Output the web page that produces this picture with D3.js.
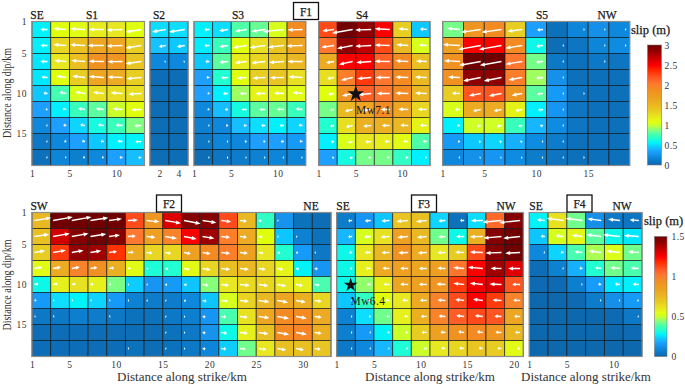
<!DOCTYPE html>
<html>
<head>
<meta charset="utf-8">
<script src="https://cdnjs.cloudflare.com/ajax/libs/d3/7.8.5/d3.min.js"></script>
<style>
html, body { margin: 0; padding: 0; background: #fff; }
svg { display: block; }
text { font-family: "Liberation Serif", serif; fill: #222; }
</style>
</head>
<body>
<svg width="685" height="385"></svg>
<script>
/* Slip per cell in metres, rows run down dip */
var slipS1 = [
 [.55,1.08,1.1,1.18,1.2,1.08],
 [.55,1.3,1.45,1.65,1.65,1.35],
 [.52,1.2,1.45,1.85,1.8,1.4],
 [.52,1.08,1.35,1.65,1.6,1.35],
 [.45,.75,1.05,1.25,1.25,1.25],
 [.33,.54,.72,.8,1,1.08],
 [.2,.33,.48,.62,.72,.87],
 [.1,.2,.33,.45,.54,.56],
 [.05,.18,.14,.2,.33,.42]];
var slipS2 = [[.5,.5],[.43,.45],[.2,.2],[.04,.04],[.03,.03],[.03,.03],[.03,.03],[.03,.03],[.03,.03]];
var slipS3 = [
 [.55,.5,.78,.82,1.05,1.9],
 [.53,.72,1.08,1.25,1.4,1.65],
 [.45,.8,1.18,1.3,1.4,1.5],
 [.33,.66,1.08,1.35,1.4,1.25],
 [.33,.54,.92,1.15,1.15,1.1],
 [.2,.42,.62,.8,.82,.72],
 [.15,.2,.42,.5,.55,.48],
 [.1,.18,.2,.33,.33,.3],
 [.03,.08,.12,.16,.18,.18]];
var slipS4 = [
 [2.25,3,2.85,2.5,1.35,.45],
 [2.05,2.85,2.7,2.25,1.5,1.05],
 [1.6,2.5,2.5,2.15,1.9,1.45],
 [1.25,2,2.3,2.05,1.9,1.5],
 [1.08,1.85,2.15,2.05,1.9,1.5],
 [.85,1.5,1.65,1.9,1.65,1.3],
 [.66,1.25,1.55,1.55,1.5,1.15],
 [.54,1.05,1.2,1.18,1.1,.78],
 [.33,.62,.85,.85,.7,.54]];
var slipS5 = [
 [.85,1.8,1.9,1.35,.33,.05,.18,.24,.2],
 [1.7,2.5,2.5,1.9,.6,.03,.08,.18,.22],
 [1.85,3,3,2.05,.85,.1,.05,.1,.08],
 [1.85,2.85,2.85,2,.92,.25,.05,.05,.05],
 [1.35,2.2,2.2,1.8,.8,.3,.08,.05,.05],
 [1.05,1.6,1.6,1.15,.54,.28,.08,.05,.05],
 [.55,1.02,1.02,.72,.4,.22,.08,.05,.05],
 [.3,.45,.48,.38,.22,.12,.05,.05,.05],
 [.2,.25,.28,.22,.12,.08,.05,.05,.05]];
var slipF2 = [
 [.75,1.5,1.5,1.5,1.5,1.12,.9,1.3,1.45,1.45,1.12,.75,.35,.13,.03,.02],
 [.72,1.32,1.45,1.5,1.45,1.02,.85,.98,1.25,1.4,1,.8,.54,.22,.08,.03],
 [.68,1.15,1.42,1.4,1.17,.8,.65,.65,.85,.95,1,.85,.6,.33,.15,.05],
 [.55,.8,.98,.93,.78,.55,.32,.33,.55,.65,.72,.75,.65,.57,.28,.14],
 [.3,.58,.62,.58,.43,.23,.14,.15,.22,.44,.6,.64,.65,.6,.58,.38],
 [.15,.25,.28,.24,.15,.08,.06,.06,.1,.22,.52,.66,.75,.82,.78,.65],
 [.05,.05,.07,.06,.05,.03,.03,.05,.07,.14,.38,.62,.82,.95,.95,.8],
 [.02,.02,.02,.02,.02,.02,.02,.03,.05,.13,.3,.58,.72,.95,.97,.78],
 [.02,.02,.02,.02,.02,.03,.02,.03,.05,.09,.23,.42,.6,.72,.72,.7]];
var slipF3 = [
 [.06,.14,.22,.7,.72,.24,.03,.25,1.05,1.45],
 [.2,.52,.62,.85,.75,.42,.3,.78,1.45,1.5],
 [.3,.6,.75,.92,.8,.6,.68,1.12,1.45,1.5],
 [.3,.58,.8,.85,.82,.85,1.03,1.25,1.4,1.3],
 [.3,.45,.58,.82,.85,.9,1.15,1.27,1.3,1.1],
 [.22,.35,.54,.6,.8,.98,1.12,1.25,1.15,.98],
 [.08,.25,.42,.58,.78,.98,1.08,1.12,1.1,.82],
 [.07,.15,.28,.5,.68,.85,.92,.95,.9,.75],
 [.05,.1,.2,.32,.5,.6,.65,.7,.68,.55]];
var slipF4 = [
 [.28,.62,.42,.12,.05,.04],
 [.22,.52,.56,.4,.3,.26],
 [.1,.24,.38,.47,.53,.42],
 [.02,.08,.19,.33,.42,.38],
 [.01,.01,.07,.16,.26,.27],
 [0,0,.01,.06,.12,.15],
 [0,0,0,0,.01,.05],
 [0,0,0,0,0,.01],
 [0,0,0,0,0,0]];

/* Rake arrow magnitude per cell */
var arrowS1 = [
 [7,13,15,15,16,16],[7,13,15,16,16,16],[7,12,14,15,15,16],[6,10,13,15,15,15],[4,7,10,11,12,13],
 [2,4,7,8,10,10],[1,3,5,6,7,7],[1,2,3,3,5,6],[1,1,2,2,3,3]];
var arrowS2 = [[14,16],[7,8],[1,1],[0,0],[0,0],[0,0],[0,0],[0,0],[0,0]];
var arrowS3 = [
 [5,9,12,14,21,15],[5,9,14,16,16,16],[4,9,12,14,15,15],[3,7,10,13,14,14],[2,5,7,10,10,10],
 [2,3,5,6,7,7],[1,2,3,4,4,4],[1,1,2,2,3,3],[.5,.8,1,1,1,1]];
var arrowS4 = [
 [12,21,16,15,10,7],[13,16,16,15,12,8],[8,14,15,15,13,11],[7,12,14,14,13,12],[6,11,13,13,13,12],
 [4,8,9,9,10,9],[4,7,8,8,8,7],[3,5,6,5,5,4],[2,3,3,3,3,2]];
var arrowS5 = [
 [13,20,20,15,6,0,1,1,1],[17,23,23,17,7,1,0,1,1],[16,22,22,17,7,1,0,1,0],[12,18,18,14,7,1,0,0,0],
 [8,12,13,11,6,1,.5,0,0],[5,8,8,7,5,1,0,0,0],[3,4,5,4,3,1,0,0,0],[2,2,2,2,1,1,0,0,0],[1,1,1,1,.8,.5,.5,0,0]];
var arrowF2 = [
 [17,20,20,18,13,10,13,16,17,14,10,7,3,1,0,0],
 [15,17,17,16,11,8,9,12,13,12,9,7,4,1,.5,0],
 [11,13,12,11,8,6,6,6,7,8,9,8,5,3,2,.8],
 [8,8,8,7,5,3,2,3,6,8,9,9,7,6,3,3],
 [4,5,4,3,2,1,1,2,3,6,8,10,10,9,7,5],
 [2,1,1,1,1,.5,.5,1,2,4,7,9,11,11,10,7],
 [1,.8,0,0,.5,0,0,.7,1,3,5,8,11,12,11,7],
 [0,0,0,0,0,0,0,.7,1,3,6,8,10,12,11,7],
 [0,0,0,0,0,.5,0,.7,1,3,5,6,8,9,8,6]];
var arrowF3 = [
 [4,6,8,12,11,7,4,12,19,21],[4,7,9,11,10,7,8,13,18,17],[3,6,8,10,9,8,9,13,16,15],
 [2,5,7,8,8,8,11,15,11,12],[1,4,6,8,8,9,11,13,12,8],[1,3,4,6,7,8,9,10,9,7],
 [1,2,3,4,6,7,8,8,7,6],[.8,1,2,3,5,5,6,6,6,5],[.8,1,1,2,3,4,5,4,4,3]];
var arrowF4 = [
 [8,17,17,14,12,9],[4,8,11,15,17,15],[1,3,8,13,14,11],[0,.8,3,6,10,8],[0,0,.7,3,5,6],
 [0,0,0,1,1,1.5],[0,0,0,0,0,.5],[0,0,0,0,0,0],[0,0,0,0,0,0]];

/* Arrow tilt in degrees: column part + row part, positive lifts the head */
var tiltColS1 = [3,7,6,3,1,-6], tiltRowS1 = [-3,-3,-2,1,3,3,3,3,3];
var tiltColS2 = [-10,-9], tiltRowS2 = [0,0,0,0,0,0,0,0,0];
var tiltColS3 = [0,-6,-7,-6,-4,0], tiltRowS3 = [-2,-2,0,3,6,6,5,5,5];
var tiltColS4 = [-7,-10,-2,3,5,5], tiltRowS4 = [0,-1,-2,-3,-3,-3,-3,-3,-3];
var tiltColS5 = [3,-10,-10,-9,-6,0,0,0,0], tiltRowS5 = [2,0,0,-1,-1,-1,-1,0,0];
var tiltColF2 = [9,10,10,9,8,3,-6,-10,-11,-9,-7,-6,-8,-10,-10,-8], tiltRowF2 = [0,0,0,0,0,0,0,0,0];
var tiltColF3 = [0,0,0,-1,-2,0,3,3,-1,-2], tiltRowF3 = [-4,-4,-1,2,3,4,4,4,4];
var tiltColF4 = [5,7,7,7,6,4], tiltRowF4 = [0,0,0,0,0,0,0,0,0];

var ticksS = [1, 5, 10];
var ticksS2 = [2, 4];
var ticksS5 = [1, 5, 10, 15];
var ticksF2 = [1, 5, 10, 15, 20, 25, 30];
var ticksF3 = [1, 5, 10, 15, 20];
var ticksDip = [1, 5, 10, 15];
var ticksBarTop = [0, .5, 1, 1.5, 2, 2.5, 3];
var ticksBarBottom = [0, .5, 1, 1.5];

/* Colormap, fractions of the maximum slip */
var cmapStops = [0,.06,.11,.15,.18,.22,.26,.29,.33,.36,.40,.46,.54,.62,.68,.74,.78,.83,.90,.95,1];
var cmapColors = ["#0b68ae","#0d85d8","#1a9fff","#10c8ff","#00f0ff","#20ffd0","#50ffa8","#80ff80","#c8ff30","#e0ff10",
                  "#e8e820","#e8c820","#eca820","#f09020","#ff7830","#ff5020","#ff3000","#ff0000","#c00000","#900000","#700000"];

var panels = [
 {slip:slipS1, arrow:arrowS1, tiltCol:tiltColS1, tiltRow:tiltRowS1, dir:-1, kmEnd:13, x0:32, x1:144.5, row:0, max:3, ticks:ticksS},
 {slip:slipS2, arrow:arrowS2, tiltCol:tiltColS2, tiltRow:tiltRowS2, dir:-1, kmEnd:5, x0:150, x1:188, row:0, max:3, ticks:ticksS2},
 {slip:slipS3, arrow:arrowS3, tiltCol:tiltColS3, tiltRow:tiltRowS3, dir:-1, kmEnd:13, x0:194, x1:305.7, row:0, max:3, ticks:ticksS},
 {slip:slipS4, arrow:arrowS4, tiltCol:tiltColS4, tiltRow:tiltRowS4, dir:-1, kmEnd:13, x0:318.7, x1:430, row:0, max:3, ticks:ticksS},
 {slip:slipS5, arrow:arrowS5, tiltCol:tiltColS5, tiltRow:tiltRowS5, dir:-1, kmEnd:19, x0:442.7, x1:629.7, row:0, max:3, ticks:ticksS5},
 {slip:slipF2, arrow:arrowF2, tiltCol:tiltColF2, tiltRow:tiltRowF2, dir:1, kmEnd:33, x0:32, x1:331, row:1, max:1.5, ticks:ticksF2},
 {slip:slipF3, arrow:arrowF3, tiltCol:tiltColF3, tiltRow:tiltRowF3, dir:-1, kmEnd:21, x0:336.7, x1:523.3, row:1, max:1.5, ticks:ticksF3},
 {slip:slipF4, arrow:arrowF4, tiltCol:tiltColF4, tiltRow:tiltRowF4, dir:-1, kmEnd:13, x0:529.3, x1:642, row:1, max:1.5, ticks:ticksS}
];

var yScales = [
 d3.scaleLinear().domain([1, 19]).range([21.5, 165.5]),
 d3.scaleLinear().domain([1, 19]).range([212.5, 356.5])
];
var arrowScale = d3.scaleLinear().domain([0, 20]).range([0, 20]);

var svg = d3.select("svg");

/* the source image is a soft raster, take the hard edge off the cells */
svg.append("defs").append("filter").attr("id", "soft")
    .append("feGaussianBlur").attr("stdDeviation", 0.4);

function colorFor(max) {
    return d3.scaleLinear().domain(cmapStops.map(function(d) { return d * max; })).range(cmapColors).clamp(true);
}

function arrowPath(len) {
    /* drawn along +x from the tail, rotated afterwards */
    var head = Math.min(5, len * 0.45);
    return "M0,-0.7L" + (len - head) + ",-0.7L" + (len - head) + ",-2L" + len + ",0L" +
           (len - head) + ",2L" + (len - head) + ",0.7L0,0.7Z";
}

function DrawPanel(p) {
    var x = d3.scaleLinear().domain([1, p.kmEnd]).range([p.x0, p.x1]);
    var y = yScales[p.row];
    var color = colorFor(p.max);
    var g = svg.append("g").attr("filter", "url(#soft)");

    var cells = [];
    p.slip.forEach(function(r, i) {
        r.forEach(function(v, j) {
            cells.push({i:i, j:j, v:v, a:p.arrow[i][j], t:p.tiltCol[j] + p.tiltRow[i]});
        });
    });

    g.selectAll("rect.cell").data(cells).enter().append("rect")
        .attr("class", "cell")
        .attr("x", function(d) { return x(1 + 2 * d.j); })
        .attr("y", function(d) { return y(1 + 2 * d.i); })
        .attr("width", x(3) - x(1))
        .attr("height", y(3) - y(1))
        .attr("fill", function(d) { return color(d.v); })
        .attr("stroke", "rgba(20,20,20,0.7)")
        .attr("stroke-width", 0.9);

    g.append("rect")
        .attr("x", p.x0).attr("y", y(1))
        .attr("width", p.x1 - p.x0).attr("height", y(19) - y(1))
        .attr("fill", "none").attr("stroke", "#8c8c8c").attr("stroke-width", 1.2);

    /* arrows start near the cell edge they come from */
    var w = x(3) - x(1);
    var arrows = g.selectAll("g.arrow").data(cells.filter(function(d) { return d.a > 0; })).enter().append("g")
        .attr("class", "arrow")
        .attr("transform", function(d) {
            var tx = p.dir < 0 ? x(3 + 2 * d.j) - w * 0.17 : x(1 + 2 * d.j) + w * 0.13;
            var ang = p.dir < 0 ? 180 + d.t : -d.t;
            return "translate(" + tx + "," + y(2 + 2 * d.i) + ") rotate(" + ang + ")";
        });
    arrows.append("path")
        .attr("d", function(d) { return arrowPath(Math.max(arrowScale(d.a), 1.2)); })
        .attr("fill", "#fff");

    var xAxis = d3.axisBottom(x).tickValues(p.ticks).tickSize(0).tickPadding(0).tickFormat(d3.format("d"));
    var xg = svg.append("g").attr("transform", "translate(0," + (y(19) + 5) + ")").call(xAxis);
    xg.select(".domain").remove();
    xg.selectAll("text").style("font-size", "9.5px").style("fill", "#333").style("letter-spacing", "0.5px");
}

function DrawDipAxis(row) {
    var yg = svg.append("g").attr("transform", "translate(30,0)")
        .call(d3.axisLeft(yScales[row]).tickValues(ticksDip).tickSize(0).tickPadding(3).tickFormat(d3.format("d")));
    yg.select(".domain").remove();
    yg.selectAll("text").style("font-size", "9.5px").style("fill", "#333").style("letter-spacing", "0.5px");
}

function Label(text, x, y, size, heavy, anchor) {
    return svg.append("text").attr("x", x).attr("y", y)
        .attr("text-anchor", anchor || "middle")
        .style("font-size", size + "px")
        .style("fill", "#1a1a1a")
        .style("stroke", heavy ? "#1a1a1a" : "none")
        .style("stroke-width", heavy ? 0.25 : 0)
        .text(text);
}

function FitLabel(text, x, y, size, length, rotate) {
    var t = svg.append("text")
        .attr("transform", "translate(" + x + "," + y + ")" + (rotate ? " rotate(-90)" : ""))
        .attr("text-anchor", "middle")
        .attr("textLength", length)
        .attr("lengthAdjust", "spacingAndGlyphs")
        .style("font-size", size + "px")
        .style("fill", "#333")
        .text(text);
    return t;
}

function DrawBox(text, x, y) {
    svg.append("rect").attr("x", x).attr("y", y).attr("width", 25).attr("height", 17)
        .attr("fill", "#fff").attr("stroke", "#111").attr("stroke-width", 1.3);
    Label(text, x + 12.5, y + 13, 11.5, true);
}

function DrawColorbar(id, x0, x1, max, ticks, y0, y1, labelX) {
    var color = colorFor(max);
    var grad = svg.append("defs").append("linearGradient").attr("id", id)
        .attr("x1", 0).attr("x2", 0).attr("y1", 1).attr("y2", 0);
    cmapStops.forEach(function(s) {
        grad.append("stop").attr("offset", s).attr("stop-color", color(s * max));
    });
    var y = d3.scaleLinear().domain([0, max]).range([y0, y1]);
    svg.append("rect").attr("x", x0).attr("y", y1).attr("width", x1 - x0).attr("height", y0 - y1)
        .attr("fill", "url(#" + id + ")").attr("stroke", "#777").attr("stroke-width", 0.6);
    var ag = svg.append("g").attr("transform", "translate(" + labelX + ",0)")
        .call(d3.axisRight(y).tickValues(ticks).tickSize(0).tickPadding(0).tickFormat(d3.format("~g")));
    ag.select(".domain").remove();
    ag.selectAll("text").style("font-size", "9.5px").style("fill", "#333").style("letter-spacing", "0.4px");
}

function DrawStar(p, km, dip, label, lx, ly) {
    var x = d3.scaleLinear().domain([1, p.kmEnd]).range([p.x0, p.x1]);
    var y = yScales[p.row];
    svg.append("path")
        .attr("d", d3.symbol().type(d3.symbolStar).size(p.row ? 60 : 85)())
        .attr("transform", "translate(" + x(km) + "," + (y(dip) + 0.5) + ")")
        .attr("fill", "#111");
    Label(label, lx, ly, 11.5, false, "start").style("letter-spacing", "0.4px");
}

panels.forEach(DrawPanel);
DrawDipAxis(0);
DrawDipAxis(1);

[["SE",37],["S1",92],["S2",159],["S3",238],["S4",362],["S5",542],["NW",607]].forEach(function(d) {
    Label(d[0], d[1], 18.5, 11.5, true);
});
[["SW",39],["NE",311],["SE",343],["NW",506],["SE",536],["NW",622]].forEach(function(d) {
    Label(d[0], d[1], 209.5, 11.5, true);
});

DrawBox("F1", 293.5, 2.5);
DrawBox("F2", 156.5, 195);
DrawBox("F3", 411.5, 195);
DrawBox("F4", 567, 195);

Label("slip (m)", 631, 34, 12.5, true, "start");
Label("slip (m)", 644, 225, 12.5, true, "start");

FitLabel("Distance along dip/km", 11, 93, 12.5, 90, true);
FitLabel("Distance along dip/km", 11, 285, 12.5, 91, true);
FitLabel("Distance along strike/km", 182, 381, 11.5, 130, false);
FitLabel("Distance along strike/km", 430, 381, 11.5, 130, false);
FitLabel("Distance along strike/km", 586, 381, 11.5, 130, false);

DrawColorbar("barTop", 647.5, 661.5, 3, ticksBarTop, 165, 45, 664.5);
DrawColorbar("barBottom", 654.5, 667, 1.5, ticksBarBottom, 356.5, 236.5, 671.5);

DrawStar(panels[3], 5, 10, "Mw7.1", 356, 114);
DrawStar(panels[6], 2.5, 10, "Mw6.4", 350.5, 305);
</script>
</body>
</html>
